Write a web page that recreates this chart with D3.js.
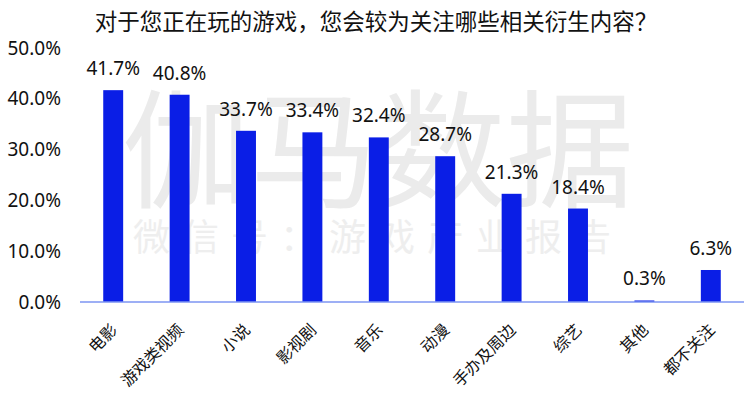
<!DOCTYPE html>
<html><head><meta charset="utf-8">
<script src="https://cdn.jsdelivr.net/npm/d3@7"></script>
<style>body{margin:0;background:#fff}svg{display:block}</style>
</head><body><svg id="c" width="750" height="397"></svg>
<script>
const title = "对于您正在玩的游戏，您会较为关注哪些相关衍生内容？";
const categories = ["电影","游戏类视频","小说","影视剧","音乐","动漫","手办及周边","综艺","其他","都不关注"];
const values = [41.7,40.8,33.7,33.4,32.4,28.7,21.3,18.4,0.3,6.3];
const yTicks = [0,10,20,30,40,50];
const watermark1 = "伽马数据";
const watermark2 = "微信号：游戏产业报告";

const svg = d3.select("#c");
const W = 750, H = 397;
const m = {left:80, right:6, top:48, bottom:95};
const x = d3.scaleBand().domain(categories).range([m.left, W - m.right]).paddingInner(0.7).paddingOuter(0.35);
const y = d3.scaleLinear().domain([0,50]).range([302, 48]);
const cjk = "'Noto Sans CJK SC','Noto Sans',sans-serif";
const num = "'Noto Sans','Open Sans',sans-serif";

// watermark
svg.append("text").attr("x",378).attr("y",198).attr("text-anchor","middle")
  .attr("font-family",cjk).attr("font-size",128).attr("fill","#ebebeb").text(watermark1);
svg.append("text").attr("x",378).attr("y",251).attr("text-anchor","middle")
  .attr("font-family",cjk).attr("font-size",37).attr("letter-spacing",12).attr("fill","#eeeeee").text(watermark2);

// title
svg.append("text").attr("x",376).attr("y",30).attr("text-anchor","middle")
  .attr("font-family",cjk).attr("font-size",22.5).attr("fill","#111").text(title);

// y axis labels
const yAxis = d3.axisLeft(y).tickValues(yTicks).tickFormat(d => d.toFixed(1) + "%").tickSize(0).tickPadding(0);
const yg = svg.append("g").attr("transform","translate(61,0)").call(yAxis);
yg.select(".domain").remove();
yg.selectAll("text").attr("font-family",num).attr("font-size",19).attr("fill","#111");

// bars
svg.append("g").selectAll("rect").data(values).join("rect")
  .attr("x",(d,i)=>x(categories[i])).attr("width",x.bandwidth())
  .attr("y",d=>y(d)).attr("height",d=>y(0)-y(d)).attr("fill","#0a1ee6");

// x axis
const xAxis = d3.axisBottom(x).tickSize(0).tickPadding(0);
const xg = svg.append("g").attr("transform","translate(0,"+y(0)+")").call(xAxis);
xg.select(".domain").attr("stroke","#7d95f2").attr("stroke-width",1.5).attr("d","M"+m.left+",0H"+(W-m.right));
xg.selectAll("text").attr("font-family",cjk).attr("font-size",16).attr("fill","#111")
  .attr("text-anchor","end").attr("dy",0).attr("y",0)
  .attr("transform","translate(5,29) rotate(-45)");

// value labels
svg.append("g").selectAll("text").data(values).join("text")
  .attr("x",(d,i)=>x(categories[i]) + x.bandwidth()/2).attr("y",d=>y(d)-15)
  .attr("text-anchor","middle").attr("font-family",num).attr("font-size",19).attr("fill","#111")
  .text(d=>d.toFixed(1)+"%");
</script></body></html>
